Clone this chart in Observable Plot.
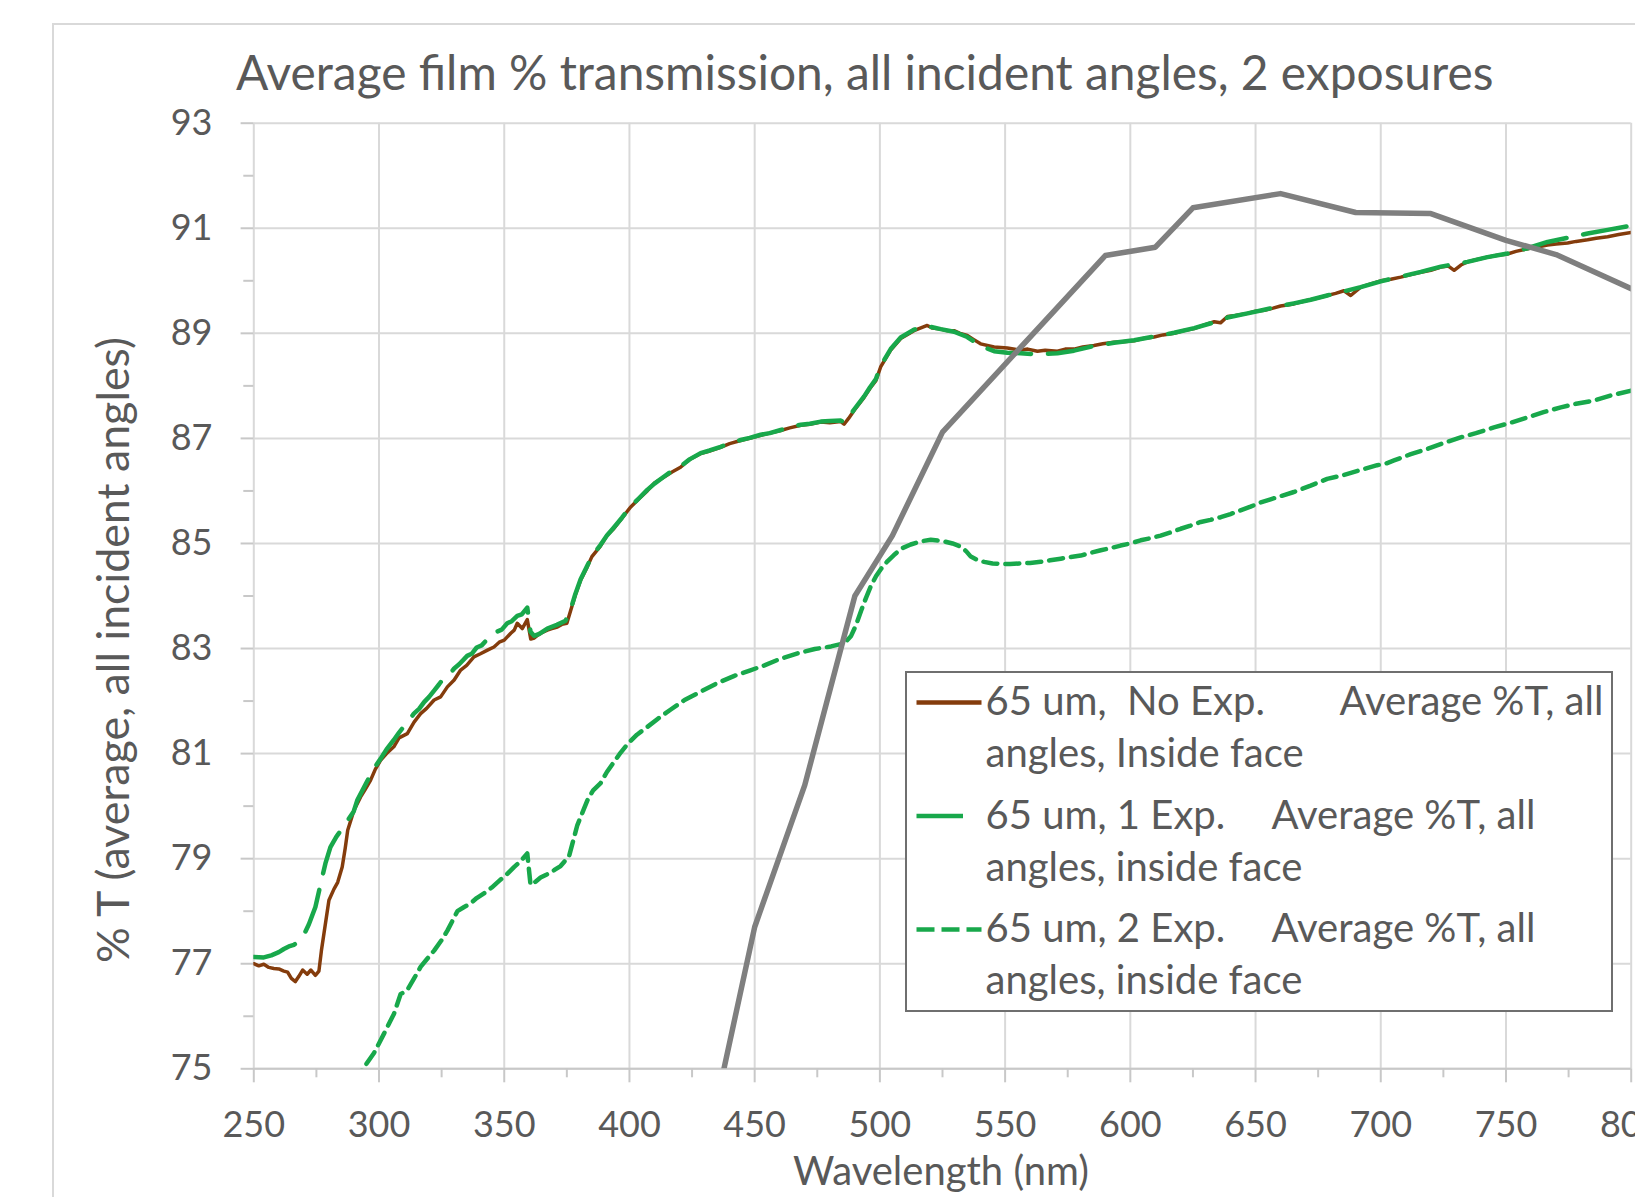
<!DOCTYPE html>
<html>
<head>
<meta charset="utf-8">
<script src="https://cdn.jsdelivr.net/npm/d3@7"></script>
<script src="https://cdn.jsdelivr.net/npm/@observablehq/plot@0.6"></script>
<style>
  html, body { margin: 0; padding: 0; background: #fff; overflow: hidden; }
  #page { position: relative; width: 1635px; height: 1197px; overflow: hidden; background: #fff;
          font-family: Lato, "Open Sans", sans-serif; color: #595959; }
  #frame { position: absolute; left: 52px; top: 23px; width: 1700px; height: 1300px;
           border-left: 2px solid #d9d9d9; border-top: 2px solid #d9d9d9; }
  .lbl { position: absolute; white-space: nowrap; line-height: 1; margin: 0; font-weight: normal; }
  #chart { position: absolute; left: 0; top: 100px; }
  #legend { position: absolute; left: 905px; top: 671px; }
</style>
</head>
<body>
<div id="page">
  <div id="frame"></div>
  <div id="title" class="lbl">Average film % transmission, all incident angles, 2 exposures</div>
  <div id="chart"></div>
  <div id="ylabel" class="lbl">% T (average, all incident angles)</div>
  <div id="xlabel" class="lbl">Wavelength (nm)</div>
  <div id="legend"></div>
</div>
<script>
// ---------- data (wavelength nm, % transmission) ----------
const xTicks = [250, 300, 350, 400, 450, 500, 550, 600, 650, 700, 750, 800];
const xMinorTicks = [275, 325, 375, 425, 475, 525, 575, 625, 675, 725, 775];
const yTicks = [75, 77, 79, 81, 83, 85, 87, 89, 91, 93];
const yMinorTicks = [76, 78, 80, 82, 84, 86, 88, 90, 92];

const seriesNames = [
  "65 um,  No Exp.        Average %T, all angles, Inside face",
  "65 um, 1 Exp.    Average %T, all angles, inside face",
  "65 um, 2 Exp.    Average %T, all angles, inside face"
];

const noExp = [[250,77.0],[252,76.96],[254,76.99],[256,76.93],[258,76.91],[260,76.9],[262,76.86],[263.5,76.84],[265,76.72],[266.6,76.66],[268,76.76],[269.5,76.88],[271.3,76.8],[272.8,76.88],[274.6,76.78],[276,76.86],[277,77.25],[278,77.57],[280,78.21],[282,78.42],[283.5,78.55],[285.3,78.84],[286.5,79.2],[287.5,79.54],[290,79.92],[292.6,80.17],[294.5,80.32],[296.6,80.49],[298.5,80.7],[300.6,80.87],[303,81.0],[305.9,81.13],[308,81.3],[311.3,81.38],[314,81.6],[316.6,81.76],[319,81.86],[322,82.02],[324.6,82.08],[327.3,82.27],[330,82.4],[332.6,82.59],[335,82.68],[337.9,82.84],[340.5,82.9],[343.3,82.97],[345.9,83.03],[348,83.12],[350,83.16],[352.6,83.29],[354,83.35],[355.2,83.48],[357.2,83.38],[359.2,83.55],[360.6,83.18],[362,83.2],[363.5,83.26],[365,83.3],[367.2,83.35],[369,83.38],[371.2,83.41],[373,83.46],[375,83.48],[376.5,83.72],[378.4,84.02],[380.5,84.3],[383.1,84.55],[385,84.75],[388.4,84.95],[391,85.15],[393.7,85.28],[397,85.48],[400.4,85.69],[404,85.86],[407.1,86.0],[410,86.15],[413.7,86.26],[417,86.36],[420.4,86.45],[424,86.6],[428.4,86.71],[432,86.76],[436.4,86.83],[440,86.9],[444.4,86.96],[448,87.0],[452.4,87.06],[456,87.1],[460.4,87.15],[464,87.2],[468.4,87.25],[472,87.27],[476.4,87.31],[480,87.3],[484.4,87.32],[485.7,87.27],[487.5,87.38],[489.7,87.53],[493.7,87.78],[496,87.95],[498.4,88.1],[500.3,88.36],[504.3,88.68],[508.3,88.9],[513.6,89.05],[518.9,89.15],[521,89.1],[524.3,89.08],[527,89.05],[529.6,89.05],[532,89.0],[534.9,88.96],[537.5,88.88],[540.2,88.8],[545.6,88.74],[550.9,88.72],[556.2,88.68],[559,88.7],[562.9,88.66],[566,88.68],[570.9,88.66],[574,88.7],[577.5,88.7],[581,88.74],[585.5,88.77],[589,88.8],[593.5,88.83],[597,88.84],[601.5,88.86],[605,88.9],[609.5,88.93],[613,88.97],[617.5,89.0],[621,89.05],[625.5,89.09],[629,89.15],[633.5,89.22],[636,89.2],[638.8,89.32],[642,89.34],[646.8,89.38],[650,89.42],[653.5,89.44],[657,89.48],[660,89.52],[665.3,89.56],[670,89.62],[674,89.66],[678.6,89.72],[682,89.76],[685.3,89.81],[688,89.72],[692,89.88],[696,89.94],[700,90.0],[704,90.03],[708,90.07],[712,90.12],[716,90.16],[720,90.2],[724,90.26],[727,90.28],[729.3,90.2],[732,90.3],[734.6,90.36],[738,90.4],[742.6,90.45],[746,90.48],[750.6,90.51],[754,90.56],[758.6,90.61],[762,90.64],[766.6,90.68],[770,90.7],[774.6,90.72],[778,90.75],[782.6,90.78],[786,90.81],[790.6,90.84],[795,90.88],[800,90.92]];

const oneExp = [[250,77.13],[254,77.12],[257,77.16],[260,77.22],[262,77.28],[264,77.33],[266,77.36],[268.6,77.44],[270,77.55],[272,77.75],[274.6,78.08],[276.6,78.5],[278.6,78.91],[280.6,79.22],[283,79.42],[286,79.62],[289.9,79.9],[291.3,80.11],[295,80.45],[298,80.72],[300.6,80.9],[303,81.08],[305.9,81.26],[308,81.4],[310,81.52],[313.9,81.76],[316,81.85],[318,81.98],[320,82.08],[322,82.2],[324,82.32],[326,82.45],[328,82.5],[330,82.62],[332,82.7],[335.2,82.86],[337,82.9],[339,83.02],[341,83.06],[343.3,83.18],[345,83.2],[347,83.32],[349,83.36],[351.2,83.48],[353,83.52],[355.2,83.62],[357,83.65],[359.2,83.78],[360.5,83.32],[362,83.24],[364,83.28],[367.2,83.38],[371,83.45],[374.5,83.53],[376.5,83.74],[378.4,84.04],[380.5,84.32],[383.1,84.57],[385,84.76],[388.4,84.97],[391,85.15],[393.7,85.3],[397,85.49],[400.4,85.7],[404,85.87],[407.1,86.02],[410,86.14],[413.7,86.27],[417,86.38],[420.4,86.47],[424,86.6],[428.4,86.72],[432,86.77],[436.4,86.84],[440,86.91],[444.4,86.97],[448,87.01],[452.4,87.07],[456,87.1],[460.4,87.16],[464,87.21],[468.4,87.26],[472,87.28],[476.4,87.32],[480,87.33],[484.4,87.34],[485.7,87.3],[487.5,87.4],[489.7,87.55],[493.7,87.8],[496,87.97],[498.4,88.13],[500.3,88.38],[504.3,88.7],[508.3,88.92],[513.6,89.07],[518.9,89.14],[524.3,89.08],[529.6,89.03],[534.9,88.93],[540.2,88.76],[545.6,88.66],[550.9,88.63],[556.2,88.62],[562.9,88.6],[570.9,88.62],[577.5,88.67],[585.5,88.76],[593.5,88.82],[601.5,88.87],[609.5,88.94],[617.5,89.01],[625.5,89.1],[633.5,89.21],[638.8,89.3],[646.8,89.38],[653.5,89.45],[660,89.52],[665.3,89.57],[672,89.64],[678.6,89.72],[685.3,89.8],[692,89.88],[700,89.99],[708,90.08],[716,90.17],[724,90.27],[734.6,90.36],[742.6,90.45],[750.6,90.52],[758.6,90.62],[766.6,90.74],[774.6,90.82],[782.6,90.9],[790.6,90.97],[800,91.05]];

const twoExp = [[290,74.75],[293.3,74.98],[298,75.3],[302,75.67],[306,76.05],[308.6,76.42],[311.3,76.5],[314,76.72],[316.6,76.94],[319,77.08],[322,77.25],[325,77.45],[327.3,77.63],[331.3,78.0],[334,78.08],[336.6,78.15],[339,78.25],[341.9,78.34],[345,78.45],[348.5,78.6],[351,78.7],[353.9,78.84],[356.5,78.95],[359.2,79.1],[360.5,78.5],[362.5,78.56],[364.5,78.64],[367,78.7],[369.9,78.78],[372.5,78.86],[375.9,79.05],[379.2,79.64],[383.2,80.11],[385.5,80.3],[388.5,80.44],[391,80.65],[393.8,80.84],[396.5,81.02],[399.2,81.18],[403,81.36],[407.2,81.51],[411.5,81.67],[416.5,81.84],[422,82.02],[428.5,82.18],[435,82.34],[441.9,82.48],[448,82.58],[453.9,82.68],[460,82.8],[467.2,82.91],[474,82.99],[480.5,83.04],[485.8,83.1],[488.5,83.24],[490.5,83.45],[492.5,83.72],[494.5,83.97],[496.5,84.2],[498.5,84.38],[500.5,84.52],[503,84.66],[505.6,84.78],[508.5,84.9],[512.3,84.98],[516.3,85.04],[520.3,85.07],[525.6,85.04],[529,85.0],[532.3,84.94],[534.5,84.85],[536.3,84.75],[538.8,84.69],[541.6,84.65],[545,84.62],[548.3,84.61],[552,84.61],[556.2,84.62],[560,84.63],[564.2,84.65],[568,84.68],[572.2,84.71],[576,84.74],[580.2,84.77],[584,84.82],[588.2,84.87],[592,84.91],[596.1,84.96],[600,85.0],[604.1,85.06],[608,85.1],[612.1,85.15],[616,85.21],[620.1,85.28],[624,85.34],[628.1,85.41],[632,85.45],[636.1,85.5],[640,85.56],[644,85.63],[648,85.7],[652,85.78],[656,85.84],[660,85.9],[665.3,85.98],[672,86.1],[678.6,86.23],[685,86.3],[692,86.4],[698.6,86.49],[702,86.52],[705.3,86.58],[712,86.7],[718.6,86.8],[725,86.91],[731.9,87.02],[738,87.1],[745.2,87.21],[752,87.3],[758.6,87.4],[765,87.5],[771.9,87.59],[778,87.66],[785.2,87.72],[792,87.82],[800,87.91]];

const grayCurve = [[430,73.3],[450,77.7],[470,80.4],[490,84.0],[505,85.15],[525,87.12],[590,90.48],[610,90.64],[625,91.39],[660,91.66],[690,91.3],[720,91.28],[750,90.77],[770,90.5],[800,89.85]];

// ---------- styles ----------
const BROWN = "#843c0c", GREEN = "#18a84b", GRAY = "#7f7f7f", TEXT = "#595959";
const DASH_LONG = "44,17", DASH_SHORT = "14,8";

// ---------- chart ----------
const X = d => d[0], Y = d => d[1];
const fmtInt = d => String(d);
const chart = Plot.plot({
  width: 1635,
  height: 1097,
  marginLeft: 253.3,
  marginRight: 4.3,
  marginTop: 22.7,
  marginBottom: 128.7,
  x: {domain: [250, 800]},
  y: {domain: [75, 93]},
  style: {fontFamily: "Lato, 'Open Sans', sans-serif", fontSize: "36px", color: TEXT, background: "none", overflow: "visible"},
  marks: [
    Plot.gridX(xTicks, {stroke: "#d9d9d9", strokeOpacity: 1, strokeWidth: 2}),
    Plot.gridY(yTicks, {stroke: "#d9d9d9", strokeOpacity: 1, strokeWidth: 2}),
    Plot.ruleY([75], {stroke: "#c8c8c8", strokeWidth: 2}),
    Plot.axisY(yMinorTicks, {anchor: "left", tickSize: 10, stroke: "#c8c8c8", strokeWidth: 2, fill: "none", label: null}),
    Plot.axisY(yTicks, {anchor: "left", tickSize: 12.7, tickPadding: 28.6, tickFormat: fmtInt, stroke: "#c8c8c8", strokeWidth: 2, fill: TEXT, fontSize: 36, label: null}),
    Plot.axisX(xMinorTicks, {anchor: "bottom", tickSize: 9, stroke: "#c8c8c8", strokeWidth: 2, fill: "none", label: null}),
    Plot.axisX(xTicks, {anchor: "bottom", tickSize: 14, tickPadding: 29, tickFormat: fmtInt, stroke: "#c8c8c8", strokeWidth: 2, fill: TEXT, fontSize: 36, label: null}),
    Plot.line(noExp, {x: X, y: Y, stroke: BROWN, strokeWidth: 3.5, strokeLinejoin: "round", clip: true}),
    Plot.line(oneExp, {x: X, y: Y, stroke: GREEN, strokeWidth: 4.5, strokeDasharray: DASH_LONG, strokeLinejoin: "round", clip: true}),
    Plot.line(twoExp, {x: X, y: Y, stroke: GREEN, strokeWidth: 4.5, strokeDasharray: DASH_SHORT, strokeLinejoin: "round", clip: true}),
    Plot.line(grayCurve, {x: X, y: Y, stroke: GRAY, strokeWidth: 5.5, strokeLinejoin: "round", clip: true})
  ]
});
document.getElementById("chart").appendChild(chart);

// ---------- text placement helpers ----------
function fit(el, target) {
  el.style.fontSize = "40px";
  const w = el.getBoundingClientRect().width;
  el.style.fontSize = (40 * target / w) + "px";
}
function baselineOf(el) {
  const m = document.createElement("span");
  m.style.cssText = "display:inline-block;width:0;height:0;vertical-align:baseline";
  el.appendChild(m);
  const b = m.getBoundingClientRect().top - el.getBoundingClientRect().top;
  m.remove();
  return b;
}
function place(el, {left, center, base, width}) {
  fit(el, width);
  const b = baselineOf(el);
  const w = el.getBoundingClientRect().width;
  el.style.left = (center != null ? center - w / 2 : left) + "px";
  el.style.top = (base - b) + "px";
}
place(document.getElementById("title"), {left: 236, base: 90, width: 1258});
place(document.getElementById("xlabel"), {center: 941, base: 1185, width: 296});
(function () {
  const el = document.getElementById("ylabel");
  fit(el, 626);
  const b = baselineOf(el);
  el.style.left = (129 - b) + "px";
  el.style.top = "963px";
  el.style.transformOrigin = "0 0";
  el.style.transform = "rotate(-90deg)";
})();

// ---------- legend ----------
const legendItems = [
  {name: seriesNames[0], color: BROWN, dash: null, avgX: 434.5},
  {name: seriesNames[1], color: GREEN, dash: DASH_LONG, avgX: 366.5},
  {name: seriesNames[2], color: GREEN, dash: "18,7", avgX: 366.5}
];
const LW = 708, LH = 341;
const lsvg = d3.select("#legend").append("svg")
  .attr("width", LW).attr("height", LH)
  .style("font-family", "Lato, 'Open Sans', sans-serif").style("display", "block");
lsvg.append("rect").attr("x", 1).attr("y", 1).attr("width", LW - 2).attr("height", LH - 2)
  .attr("fill", "#fff").attr("stroke", "#6f6f6f").attr("stroke-width", 2);
const probe = lsvg.append("text").attr("font-size", 40).text("angles, inside face");
const legendFont = 40 * 317 / probe.node().getComputedTextLength();
probe.remove();
legendItems.forEach((it, i) => {
  const base = 44 + i * 113.5;
  const parts = it.name.split(/\s{3,}/);
  const first = parts[0];
  const m = parts[1].match(/^(.*?, all)\s+(.*)$/);
  const g = lsvg.append("g").attr("fill", TEXT).attr("font-size", legendFont);
  g.append("line").attr("x1", 11.5).attr("x2", it.dash === DASH_LONG ? 58 : 76.5)
    .attr("y1", base - 12.5).attr("y2", base - 12.5)
    .attr("stroke", it.color).attr("stroke-width", 4.5)
    .attr("stroke-dasharray", it.dash === DASH_LONG ? null : it.dash);
  g.append("text").attr("x", 80.5).attr("y", base).style("white-space", "pre").text(first);
  g.append("text").attr("x", it.avgX).attr("y", base).text(m[1]);
  g.append("text").attr("x", 80.5).attr("y", base + 52).text(m[2]);
});
</script>
</body>
</html>
